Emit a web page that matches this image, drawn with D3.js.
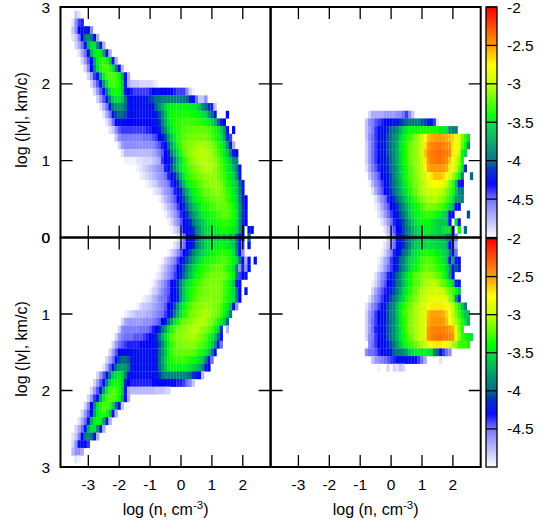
<!DOCTYPE html>
<html>
<head>
<meta charset="utf-8">
<script src="https://cdn.jsdelivr.net/npm/d3@7"></script>
<style>
  html, body { margin: 0; padding: 0; background: #fff; }
  text { font-family: "Liberation Sans", Arial, sans-serif; fill: #000; }
</style>
</head>
<body>
<svg id="chart" width="557" height="524"></svg>
<script>
// each row: [log|v| of the row, log n of the first cell, log density of cells at 0.1 dex steps]
var topLeftRows = [
  [2.9,-3.4,[-4.8,-4.9]],
  [2.8,-3.5,[-4.9,-4.6,-4.4,-4.35]],
  [2.7,-3.5,[-4.8,-4.6,-4.3,-4.2,-4.2,-4.25,-4.6]],
  [2.6,-3.5,[-4.9,-4.8,-4.55,-4.3,-3.95,-3.85,-3.95,-4.25,-4.7]],
  [2.5,-3.4,[-4.85,-4.7,-4.5,-4.2,-3.7,-3.5,-3.5,-3.85,-4.25,-4.7]],
  [2.4,-3.3,[-4.9,-4.7,-4.5,-4.25,-3.7,-3.45,-3.4,-3.45,-3.75,-4.25,-4.7]],
  [2.3,-3.2,[-4.85,-4.65,-4.45,-4.25,-3.75,-3.45,-3.35,-3.3,-3.4,-3.6,-4.2,-4.7]],
  [2.2,-3.1,[-4.85,-4.6,-4.3,-3.85,-3.5,-3.35,-3.25,-3.25,-3.35,-3.5,-3.9,-4.3,-4.75]],
  [2.1,-3.0,[-4.85,-4.65,-4.4,-4.2,-3.75,-3.45,-3.3,-3.25,-3.25,-3.3,-3.4,-3.7,-4.25,-4.7]],
  [2.0,-2.9,[-4.85,-4.65,-4.45,-4.2,-3.8,-3.5,-3.3,-3.25,-3.3,-3.35,-3.55,-4.2,-4.7,-4.8,-4.8,-4.8,-4.85,-4.85,-4.85,-4.85,-4.9,-4.95]],
  [1.9,-2.8,[-4.85,-4.65,-4.45,-4.25,-3.9,-3.55,-3.4,-3.35,-3.4,-3.55,-4.2,-4.3,-4.35,-4.4,-4.4,-4.4,-4.4,-4.4,-4.35,-4.3,-4.25,-4.25,-4.3,-4.3,-4.3,-4.3,-4.35,-4.4,-4.4,-4.4,-4.6,-4.85,-4.95]],
  [1.8,-2.7,[-4.85,-4.65,-4.45,-4.2,-3.95,-3.6,-3.5,-3.5,-3.6,-3.95,-4.25,-4.25,-4.25,-4.25,-4.25,-4.25,-4.2,-4.1,-4.05,-3.95,-3.95,-3.9,-3.9,-3.9,-3.9,-3.9,-3.9,-3.95,-3.95,-4,-4.2,-4.25,-4.5,-4.8,-4.8,-4.6]],
  [1.7,-2.6,[-4.9,-4.7,-4.5,-4.2,-3.95,-3.85,-3.8,-3.85,-4,-4.25,-4.25,-4.25,-4.25,-4.25,-4.25,-4.25,-4.25,-4.2,-4,-3.85,-3.7,-3.55,-3.45,-3.42,-3.42,-3.42,-3.42,-3.42,-3.42,-3.42,-3.45,-3.5,-3.6,-3.85,-4,-4.1,-4.35,-4.8]],
  [1.6,-2.5,[-4.9,-4.7,-4.5,-4.2,-4.05,-4,-4,-4.05,-4.2,-4.25,-4.25,-4.25,-4.25,-4.25,-4.25,-4.25,-4.25,-4.2,-4.05,-3.85,-3.65,-3.45,-3.4,-3.38,-3.38,-3.38,-3.35,-3.35,-3.35,-3.38,-3.4,-3.45,-3.5,-3.55,-3.8,-4,-4.2,null,null,null,-4.3]],
  [1.5,-2.4,[-4.9,-4.75,-4.5,-4.3,-4.25,-4.25,-4.25,-4.3,-4.3,-4.3,-4.3,-4.3,-4.3,-4.3,-4.3,-4.25,-4.2,-4.1,-3.9,-3.7,-3.5,-3.4,-3.35,-3.33,-3.3,-3.28,-3.28,-3.28,-3.28,-3.3,-3.32,-3.35,-3.4,-3.45,-3.55,-3.7,-4,-4.2,-4.3]],
  [1.4,-2.3,[-4.9,-4.8,-4.6,-4.45,-4.4,-4.4,-4.4,-4.4,-4.4,-4.4,-4.4,-4.4,-4.35,-4.35,-4.3,-4.25,-4.2,-4,-3.85,-3.6,-3.45,-3.38,-3.33,-3.28,-3.25,-3.22,-3.22,-3.2,-3.2,-3.2,-3.2,-3.22,-3.25,-3.3,-3.35,-3.45,-3.55,-3.8,-4.2,null,-4.3]],
  [1.3,-2.1,[-4.8,-4.6,-4.55,-4.55,-4.55,-4.55,-4.55,-4.55,-4.55,-4.5,-4.5,-4.5,-4.45,-4.4,-4.3,-4.2,-4.05,-3.8,-3.6,-3.45,-3.33,-3.27,-3.22,-3.18,-3.17,-3.16,-3.15,-3.15,-3.15,-3.15,-3.2,-3.25,-3.32,-3.4,-3.5,-3.7,-4.1,-4.4]],
  [1.2,-2.0,[-4.85,-4.65,-4.6,-4.6,-4.6,-4.6,-4.6,-4.6,-4.6,-4.6,-4.6,-4.6,-4.5,-4.45,-4.35,-4.25,-4,-3.75,-3.55,-3.38,-3.28,-3.2,-3.15,-3.12,-3.1,-3.08,-3.05,-3.05,-3.07,-3.1,-3.15,-3.22,-3.3,-3.4,-3.5,-3.8,-4.2,-4.7]],
  [1.1,-1.9,[-4.9,-4.75,-4.75,-4.75,-4.75,-4.75,-4.75,-4.75,-4.75,-4.75,-4.7,-4.65,-4.55,-4.45,-4.3,-4.15,-3.9,-3.7,-3.5,-3.35,-3.22,-3.15,-3.1,-3.07,-3.05,-3.03,-3.02,-3.02,-3.05,-3.1,-3.15,-3.25,-3.35,-3.45,-3.6,-3.9,-4.2,-4.3]],
  [1.0,-1.8,[-4.95,-4.95,-4.95,-4.95,-4.9,-4.9,-4.85,-4.85,-4.85,-4.8,-4.75,-4.7,-4.4,-4.3,-4.2,-4.1,-3.9,-3.65,-3.5,-3.35,-3.22,-3.15,-3.1,-3.05,-3.03,-3.02,-3.02,-3.05,-3.07,-3.1,-3.18,-3.27,-3.35,-3.45,-3.6,-3.85,-3.9]],
  [0.9,-1.4,[-4.95,-4.9,-4.85,-4.8,-4.75,-4.7,-4.65,-4.6,-4.55,-4.35,-4.2,-4.05,-3.85,-3.65,-3.45,-3.35,-3.28,-3.2,-3.15,-3.12,-3.08,-3.05,-3.03,-3.03,-3.05,-3.1,-3.17,-3.25,-3.32,-3.42,-3.5,-3.7,-3.9,-4.2]],
  [0.8,-1.3,[-4.95,-4.9,-4.85,-4.8,-4.75,-4.7,-4.65,-4.6,-4.5,-4.35,-4.25,-4.15,-3.95,-3.7,-3.45,-3.35,-3.28,-3.23,-3.2,-3.15,-3.12,-3.1,-3.08,-3.1,-3.1,-3.17,-3.22,-3.3,-3.38,-3.45,-3.55,-3.8,-4.2]],
  [0.7,-1.1,[-4.95,-4.9,-4.85,-4.8,-4.7,-4.65,-4.6,-4.5,-4.35,-4.25,-4.15,-3.9,-3.65,-3.45,-3.38,-3.32,-3.28,-3.23,-3.17,-3.15,-3.12,-3.1,-3.1,-3.12,-3.17,-3.25,-3.33,-3.42,-3.5,-3.6,-4,-4.2]],
  [0.6,-0.9,[-4.95,-4.9,-4.85,-4.75,-4.65,-4.6,-4.5,-4.35,-4.25,-4.15,-3.9,-3.7,-3.5,-3.42,-3.35,-3.3,-3.25,-3.2,-3.2,-3.15,-3.12,-3.12,-3.15,-3.22,-3.27,-3.38,-3.45,-3.6,-3.9,-4.2]],
  [0.5,-0.7,[-4.95,-4.85,-4.75,-4.65,-4.55,-4.45,-4.3,-4.2,-4.05,-3.85,-3.65,-3.5,-3.42,-3.35,-3.32,-3.28,-3.25,-3.2,-3.2,-3.17,-3.17,-3.2,-3.27,-3.35,-3.42,-3.55,-3.9,-4.15,-4.3]],
  [0.4,-0.6,[-4.95,-4.85,-4.75,-4.65,-4.55,-4.4,-4.3,-4.15,-4,-3.8,-3.65,-3.55,-3.45,-3.38,-3.35,-3.32,-3.28,-3.25,-3.2,-3.2,-3.2,-3.23,-3.3,-3.38,-3.5,-3.8,-4.1,-4.3]],
  [0.3,-0.5,[-4.95,-4.85,-4.75,-4.65,-4.5,-4.35,-4.25,-4.1,-3.95,-3.8,-3.7,-3.55,-3.45,-3.42,-3.38,-3.35,-3.32,-3.28,-3.25,-3.22,-3.22,-3.28,-3.35,-3.45,-3.8,-4.1,-4.25]],
  [0.2,-0.4,[-4.95,-4.85,-4.7,-4.6,-4.45,-4.3,-4.2,-4.1,-3.95,-3.8,-3.7,-3.6,-3.5,-3.45,-3.42,-3.38,-3.35,-3.32,-3.3,-3.3,-3.35,-3.38,-3.5,-3.85,-4.15,-4.3]],
  [0.1,-0.3,[-4.95,-4.85,-4.75,-4.6,-4.3,-4.25,-4.2,-4.1,-3.9,-3.8,-3.65,-3.55,-3.5,-3.45,-3.45,-3.42,-3.38,-3.35,-3.38,-3.42,-3.45,-3.55,-3.85,-4.15,null,-4.25,-4.25]],
  [0.0,-0.1,[-4.9,-4.75,-4.5,-4.3,-4.25,-4.2,-4,-3.85,-3.7,-3.6,-3.55,-3.5,-3.55,-3.6,-3.5,-3.6,-3.5,-3.7,-3.6,-4,-4.25,-4.2,null,-3.95]]
];
var bottomLeftRows = [
  [0.0,-0.1,[-4.9,-4.75,-4.5,-4.3,-4.25,-4.2,-4,-3.85,-3.7,-3.6,-3.55,-3.5,-3.55,-3.6,-3.5,-3.6,-3.5,-3.7,-3.6,-4,-4.25,-4.2,null,-3.95]],
  [0.1,-0.2,[-4.9,-4.8,-4.65,-4.5,-4.3,-4.25,-4.15,-3.95,-3.8,-3.7,-3.55,-3.5,-3.45,-3.45,-3.45,-3.42,-3.42,-3.45,-3.5,-3.6,-3.9,-4.2,-4.5,null,-4.25]],
  [0.2,-0.4,[-4.95,-4.85,-4.75,-4.6,-4.45,-4.3,-4.2,-4.05,-3.9,-3.75,-3.65,-3.55,-3.5,-3.45,-3.42,-3.38,-3.35,-3.32,-3.32,-3.35,-3.38,-3.5,-3.85,-4.2,-4.6]],
  [0.3,-0.6,[-4.95,-4.85,-4.75,-4.65,-4.55,-4.4,-4.3,-4.2,-4.05,-3.9,-3.75,-3.6,-3.5,-3.45,-3.38,-3.35,-3.32,-3.32,-3.28,-3.25,-3.25,-3.28,-3.35,-3.42,-3.5,-3.9,-4.3,-4.7,-4.25,null,-4.25]],
  [0.4,-0.7,[-4.95,-4.85,-4.75,-4.65,-4.55,-4.45,-4.3,-4.2,-4.05,-3.85,-3.7,-3.55,-3.45,-3.38,-3.35,-3.32,-3.28,-3.25,-3.2,-3.2,-3.2,-3.25,-3.32,-3.38,-3.5,-3.9,-4.6,-4.1,-4.6,-4.25]],
  [0.5,-0.8,[-4.95,-4.9,-4.8,-4.7,-4.6,-4.5,-4.4,-4.25,-4.15,-4,-3.8,-3.6,-3.5,-3.38,-3.35,-3.28,-3.25,-3.2,-3.17,-3.17,-3.17,-3.15,-3.17,-3.25,-3.32,-3.42,-3.9,-4.4,-4.3,-4.25]],
  [0.6,-0.9,[-4.95,-4.85,-4.75,-4.65,-4.55,-4.45,-4.3,-4.25,-4.1,-3.9,-3.65,-3.5,-3.42,-3.35,-3.28,-3.25,-3.2,-3.17,-3.15,-3.15,-3.15,-3.15,-3.17,-3.25,-3.32,-3.42,-3.6,-4.2,-4.25]],
  [0.7,-1.0,[-4.95,-4.85,-4.8,-4.7,-4.6,-4.5,-4.45,-4.3,-4.25,-4.1,-3.85,-3.6,-3.45,-3.38,-3.32,-3.25,-3.2,-3.17,-3.17,-3.15,-3.15,-3.15,-3.15,-3.17,-3.25,-3.32,-3.42,-3.5,-3.9,-4.25,null,-4.25]],
  [0.8,-1.2,[-4.95,-4.9,-4.85,-4.75,-4.7,-4.6,-4.55,-4.5,-4.4,-4.3,-4.25,-4.15,-3.85,-3.6,-3.45,-3.35,-3.28,-3.2,-3.17,-3.15,-3.15,-3.12,-3.12,-3.15,-3.15,-3.17,-3.28,-3.35,-3.42,-3.5,-3.9,-4.3]],
  [0.9,-1.4,[-4.95,-4.85,-4.8,-4.8,-4.75,-4.7,-4.65,-4.6,-4.55,-4.45,-4.3,-4.25,-4.05,-3.8,-3.55,-3.42,-3.32,-3.25,-3.17,-3.15,-3.12,-3.12,-3.08,-3.12,-3.12,-3.15,-3.17,-3.25,-3.35,-3.45,-3.6,-4.2,-4.6]],
  [1.0,-1.8,[-4.95,-4.9,-4.85,-4.8,-4.75,-4.75,-4.75,-4.7,-4.7,-4.65,-4.6,-4.55,-4.5,-4.4,-4.25,-4.15,-3.95,-3.7,-3.5,-3.35,-3.28,-3.17,-3.15,-3.12,-3.08,-3.06,-3.05,-3.06,-3.12,-3.15,-3.2,-3.28,-3.42,-3.55,-3.9]],
  [1.1,-1.9,[-4.85,-4.7,-4.65,-4.65,-4.65,-4.65,-4.65,-4.6,-4.6,-4.6,-4.55,-4.5,-4.45,-4.3,-4.2,-4,-3.75,-3.5,-3.38,-3.22,-3.17,-3.15,-3.12,-3.08,-3.05,-3.02,-3.02,-3.06,-3.12,-3.17,-3.25,-3.35,-3.45,-3.6,-4]],
  [1.2,-2.0,[-4.85,-4.6,-4.55,-4.55,-4.55,-4.55,-4.55,-4.5,-4.5,-4.5,-4.45,-4.35,-4.3,-4.15,-3.95,-3.75,-3.5,-3.35,-3.22,-3.17,-3.15,-3.12,-3.08,-3.05,-3.02,-3.02,-3.05,-3.12,-3.15,-3.2,-3.3,-3.42,-3.55,-4.1,null,-4.75]],
  [1.3,-2.1,[-4.85,-4.65,-4.55,-4.5,-4.5,-4.5,-4.45,-4.45,-4.45,-4.4,-4.35,-4.3,-4.25,-4.15,-3.95,-3.7,-3.5,-3.35,-3.22,-3.17,-3.15,-3.12,-3.08,-3.08,-3.05,-3.05,-3.08,-3.12,-3.17,-3.25,-3.35,-3.45,-3.6,-3.95,-4.25]],
  [1.4,-2.2,[-4.85,-4.65,-4.5,-4.45,-4.4,-4.35,-4.35,-4.35,-4.35,-4.3,-4.3,-4.3,-4.3,-4.25,-4.2,-4.05,-3.85,-3.6,-3.42,-3.32,-3.22,-3.17,-3.15,-3.15,-3.12,-3.12,-3.12,-3.15,-3.22,-3.25,-3.32,-3.42,-3.55,-3.8,-4.2,-4.5]],
  [1.5,-2.3,[-4.85,-4.65,-4.45,-4.3,-4.25,-4.25,-4.25,-4.25,-4.25,-4.25,-4.25,-4.25,-4.25,-4.25,-4.25,-4.2,-4,-3.8,-3.6,-3.42,-3.3,-3.22,-3.22,-3.2,-3.2,-3.2,-3.2,-3.22,-3.25,-3.32,-3.38,-3.45,-3.6,-3.9,-4.25]],
  [1.6,-2.4,[-4.85,-4.7,-4.5,-4.25,-4.05,-4,-4,-4.05,-4.2,-4.25,-4.25,-4.25,-4.25,-4.25,-4.25,-4.25,-4.2,-4,-3.75,-3.55,-3.42,-3.35,-3.3,-3.3,-3.3,-3.3,-3.32,-3.35,-3.38,-3.42,-3.5,-3.6,-3.9,-4.25,-4.5]],
  [1.7,-2.5,[-4.9,-4.7,-4.45,-4.2,-3.95,-3.8,-3.75,-3.8,-3.95,-4.2,-4.25,-4.25,-4.25,-4.25,-4.25,-4.25,-4.25,-4.2,-4,-3.8,-3.6,-3.45,-3.42,-3.42,-3.42,-3.42,-3.42,-3.45,-3.5,-3.55,-3.65,-3.75,-3.9,-4.2,-4.3]],
  [1.8,-2.7,[-4.85,-4.65,-4.45,-4.2,-3.95,-3.6,-3.5,-3.45,-3.55,-3.9,-4.25,-4.25,-4.25,-4.25,-4.25,-4.25,-4.25,-4.25,-4.25,-4.2,-4.1,-3.95,-3.9,-3.9,-3.9,-3.9,-3.9,-3.9,-3.9,-3.95,-4,-4.1,-4.2,-4.25,-4.75]],
  [1.9,-2.8,[-4.85,-4.65,-4.45,-4.25,-3.9,-3.55,-3.4,-3.35,-3.4,-3.55,-4.15,-4.3,-4.35,-4.35,-4.35,-4.35,-4.35,-4.35,-4.35,-4.3,-4.3,-4.3,-4.3,-4.3,-4.3,-4.3,-4.3,-4.35,-4.35,-4.4,-4.5,-4.6,-4.8]],
  [2.0,-2.9,[-4.85,-4.65,-4.45,-4.2,-3.8,-3.5,-3.3,-3.25,-3.3,-3.35,-3.55,-4.2,-4.7,-4.75,-4.75,-4.75,-4.75,-4.75,-4.75,-4.75,-4.75,-4.8,-4.8,-4.8,-4.85,-4.85]],
  [2.1,-3.0,[-4.85,-4.65,-4.4,-4.2,-3.75,-3.45,-3.3,-3.25,-3.25,-3.3,-3.4,-3.7,-4.25,-4.7]],
  [2.2,-3.1,[-4.85,-4.6,-4.3,-3.85,-3.5,-3.35,-3.25,-3.25,-3.35,-3.55,-4,-4.3,-4.8]],
  [2.3,-3.2,[-4.85,-4.65,-4.45,-4.25,-3.75,-3.45,-3.35,-3.3,-3.4,-3.6,-4.2,-4.7]],
  [2.4,-3.3,[-4.9,-4.7,-4.5,-4.25,-3.7,-3.45,-3.4,-3.45,-3.75,-4.25,-4.7]],
  [2.5,-3.4,[-4.85,-4.7,-4.5,-4.2,-3.7,-3.5,-3.5,-3.85,-4.25,-4.7]],
  [2.6,-3.5,[-4.9,-4.8,-4.55,-4.3,-3.95,-3.85,-3.95,-4.25,-4.7]],
  [2.7,-3.5,[-4.85,-4.6,-4.25,-4.25,-4.25,-4.4]],
  [2.8,-3.5,[-4.75,-4.6,-4.6,-4.7]],
  [2.9,-3.4,[-4.9,-4.95]]
];
var topRightRows = [
  [1.6,-0.7,[-4.85,-4.7,-4.7,-4.7,-4.7,-4.65,-4.65,-4.65,-4.65,-4.6,-4.6,-4.5,-4.4,-4.6,-4.8]],
  [1.5,-0.8,[-4.8,-4.6,-4.55,-4.45,-4.4,-4.35,-4.3,-4.3,-4.25,-4.25,-4.2,-4.1,-4.05,-4,-3.95,-3.95,-3.95,-3.95,-4.05,-4.05,-4.2,-4.2,-4.4,-4.9]],
  [1.4,-0.8,[-4.8,-4.65,-4.55,-4.4,-4.25,-4.25,-4.25,-4.1,-4,-3.95,-3.85,-3.7,-3.55,-3.45,-3.4,-3.4,-3.4,-3.35,-3.35,-3.35,-3.35,-3.35,-3.35,-3.35,-3.45,-3.45,-3.5,-3.85,-3.95,-3.95]],
  [1.3,-0.8,[-4.8,-4.6,-4.5,-4.4,-4.25,-4.2,-4.2,-4.05,-3.95,-3.85,-3.75,-3.55,-3.45,-3.35,-3.3,-3.2,-3.15,-3.05,-2.95,-2.75,-2.6,-2.55,-2.52,-2.5,-2.5,-2.52,-2.55,-2.6,-2.65,-2.8,-2.85,-3.15,-3.3,-3.5]],
  [1.2,-0.8,[-4.85,-4.65,-4.5,-4.4,-4.25,-4.2,-4.2,-4.05,-3.95,-3.85,-3.7,-3.5,-3.4,-3.3,-3.2,-3.15,-3.1,-3.05,-2.95,-2.7,-2.5,-2.45,-2.42,-2.4,-2.4,-2.42,-2.45,-2.5,-2.7,-2.8,-2.85,-3.2,-3.4,-3.9]],
  [1.1,-0.8,[-4.85,-4.65,-4.5,-4.4,-4.25,-4.2,-4.2,-4.05,-3.95,-3.85,-3.7,-3.5,-3.4,-3.3,-3.2,-3.15,-3.1,-3.05,-2.95,-2.6,-2.45,-2.4,-2.38,-2.36,-2.35,-2.38,-2.4,-2.45,-2.7,-2.85,-2.95,-3.4,-3.55]],
  [1.0,-0.8,[-4.85,-4.65,-4.5,-4.4,-4.3,-4.25,-4.2,-4.1,-4,-3.85,-3.7,-3.55,-3.4,-3.3,-3.2,-3.15,-3.1,-3.05,-2.95,-2.7,-2.5,-2.42,-2.4,-2.38,-2.38,-2.4,-2.45,-2.6,-2.8,-2.95,-3.1,-3.4]],
  [0.9,-0.8,[-4.9,-4.7,-4.55,-4.45,-4.35,-4.25,-4.2,-4.15,-4,-3.9,-3.75,-3.55,-3.45,-3.35,-3.25,-3.2,-3.1,-3.05,-3,-2.8,-2.55,-2.5,-2.5,-2.5,-2.5,-2.5,-2.55,-2.7,-2.85,-3,-3.2,-3.45,-4.1]],
  [0.8,-0.7,[-4.8,-4.65,-4.55,-4.45,-4.3,-4.25,-4.2,-4.05,-3.9,-3.75,-3.6,-3.45,-3.35,-3.25,-3.2,-3.15,-3.05,-3,-2.95,-2.8,-2.7,-2.6,-2.6,-2.6,-2.65,-2.75,-2.9,-3.05,-3.2,-3.4,-3.9,null,null,-4]],
  [0.7,-0.7,[-4.95,-4.75,-4.6,-4.5,-4.4,-4.25,-4.2,-4.05,-3.95,-3.8,-3.65,-3.5,-3.4,-3.3,-3.2,-3.15,-3.1,-3.05,-2.95,-2.85,-2.8,-2.75,-2.75,-2.8,-2.85,-3,-3.15,-3.3,-3.6,-4.25,-4.25]],
  [0.6,-0.6,[-4.9,-4.7,-4.55,-4.45,-4.3,-4.25,-4.1,-4,-3.85,-3.7,-3.55,-3.45,-3.35,-3.25,-3.2,-3.1,-3.05,-3,-2.95,-2.95,-2.9,-2.95,-3,-3.05,-3.15,-3.25,-3.35,-3.6,-3.9,-3.95]],
  [0.5,-0.5,[-4.9,-4.75,-4.6,-4.5,-4.35,-4.25,-4.1,-4,-3.85,-3.7,-3.55,-3.45,-3.35,-3.3,-3.2,-3.15,-3.1,-3.05,-3.05,-3,-3.05,-3.1,-3.15,-3.25,-3.35,-3.5,-3.8,-3.85,-3.9]],
  [0.4,-0.5,[-4.95,-4.85,-4.7,-4.55,-4.45,-4.3,-4.25,-4.1,-4,-3.85,-3.7,-3.55,-3.45,-3.4,-3.35,-3.25,-3.2,-3.15,-3.15,-3.15,-3.2,-3.25,-3.3,-3.4,-3.55,-3.7,-4.25,-4.25]],
  [0.3,-0.4,[-4.9,-4.8,-4.65,-4.5,-4.4,-4.25,-4.2,-4.05,-3.95,-3.8,-3.6,-3.5,-3.45,-3.4,-3.35,-3.3,-3.3,-3.3,-3.35,-3.4,-3.45,-3.55,-3.6,-4.2,-4.25,null,null,null,null,-4.05]],
  [0.2,-0.3,[-4.9,-4.8,-4.65,-4.5,-4.35,-4.25,-4.15,-4.05,-3.9,-3.75,-3.6,-3.5,-3.45,-3.4,-3.4,-3.4,-3.45,-3.5,-3.55,-3.6,-3.6,-3.65,-4.25,null,-3.5,-4.25]],
  [0.1,-0.2,[-4.9,-4.75,-4.6,-4.45,-4.3,-4.25,-4.05,-3.95,-3.85,-3.7,-3.6,-3.55,-3.5,-3.45,-3.45,-3.45,-3.5,-3.55,-3.55,-3.5,-3.45,-3.5,-4.25,null,-3.4,null,-4]],
  [0.0,-0.1,[-4.8,-4.65,-4.5,-4.25,-4.2,-4.1,-4,-3.9,-3.8,-3.7,-3.6,-3.6,-3.55,-3.55,-3.6,-3.6,-3.6,-3.7,-3.7,-3.85,-3.95,-4.25,-4.5]]
];
var bottomRightRows = [
  [0.0,-0.1,[-4.8,-4.65,-4.5,-4.25,-4.2,-4.1,-4,-3.9,-3.8,-3.7,-3.6,-3.6,-3.55,-3.55,-3.6,-3.6,-3.6,-3.7,-3.7,-3.85,-3.95,-4.25,-4.5]],
  [0.1,-0.2,[-4.9,-4.8,-4.65,-4.5,-4.25,-4.25,-4.1,-4,-3.9,-3.7,-3.6,-3.55,-3.55,-3.55,-3.5,-3.5,-3.5,-3.55,-3.55,-3.6,-3.7,-4.25,-4.4,-4.7]],
  [0.2,-0.3,[-4.95,-4.85,-4.7,-4.55,-4.35,-4.25,-4.15,-4,-3.9,-3.75,-3.55,-3.5,-3.45,-3.4,-3.35,-3.35,-3.35,-3.4,-3.45,-3.45,-3.55,-3.6,-3.9,-4.25,-4.5]],
  [0.3,-0.4,[-4.95,-4.85,-4.7,-4.6,-4.4,-4.25,-4.15,-4,-3.9,-3.7,-3.55,-3.5,-3.45,-3.35,-3.3,-3.25,-3.25,-3.25,-3.3,-3.35,-3.4,-3.5,-3.6,-4.2,-3.75,-4.25,-4.25]],
  [0.4,-0.4,[-4.9,-4.8,-4.65,-4.5,-4.4,-4.25,-4.15,-4,-3.85,-3.7,-3.55,-3.45,-3.4,-3.3,-3.25,-3.2,-3.2,-3.2,-3.25,-3.3,-3.35,-3.4,-3.55,-3.8,-4.2,-4.05,-4.25]],
  [0.5,-0.5,[-4.9,-4.75,-4.6,-4.5,-4.35,-4.25,-4.1,-4,-3.85,-3.65,-3.5,-3.4,-3.3,-3.25,-3.2,-3.15,-3.1,-3.1,-3.1,-3.15,-3.2,-3.25,-3.35,-3.5,-3.8,-4.3]],
  [0.6,-0.6,[-4.95,-4.85,-4.7,-4.55,-4.45,-4.3,-4.25,-4.1,-3.95,-3.85,-3.65,-3.5,-3.4,-3.3,-3.25,-3.2,-3.1,-3.05,-3.05,-3,-3,-3.05,-3.15,-3.2,-3.3,-3.4,-3.55,-4.2,-4.25]],
  [0.7,-0.6,[-4.85,-4.7,-4.55,-4.45,-4.35,-4.25,-4.15,-4.05,-3.9,-3.75,-3.55,-3.45,-3.35,-3.25,-3.2,-3.1,-3.05,-3,-2.95,-2.95,-2.9,-2.9,-2.95,-3,-3.1,-3.2,-3.3,-3.4,-3.6]],
  [0.8,-0.7,[-4.9,-4.75,-4.6,-4.5,-4.4,-4.25,-4.2,-4.05,-3.95,-3.8,-3.6,-3.5,-3.35,-3.25,-3.2,-3.15,-3.05,-3,-2.95,-2.9,-2.85,-2.85,-2.85,-2.85,-2.85,-2.9,-3.1,-3.25,-3.8,-4.2]],
  [0.9,-0.8,[-4.9,-4.75,-4.6,-4.5,-4.4,-4.25,-4.2,-4.05,-3.95,-3.85,-3.6,-3.45,-3.35,-3.25,-3.2,-3.1,-3.05,-3,-2.95,-2.9,-2.75,-2.7,-2.7,-2.7,-2.7,-2.72,-2.8,-2.85,-3,-3.2,-3.35,-3.6,-3.9]],
  [1.0,-0.8,[-4.85,-4.65,-4.55,-4.4,-4.3,-4.25,-4.2,-4.05,-3.9,-3.85,-3.6,-3.45,-3.3,-3.25,-3.15,-3.1,-3.05,-3,-2.95,-2.85,-2.58,-2.52,-2.52,-2.52,-2.52,-2.55,-2.65,-2.8,-3,-3.15,-3.3,-3.45,-3.6,-3.6]],
  [1.1,-0.8,[-4.85,-4.65,-4.5,-4.4,-4.3,-4.25,-4.2,-4.05,-3.95,-3.85,-3.65,-3.45,-3.35,-3.25,-3.15,-3.1,-3.05,-3,-2.95,-2.85,-2.55,-2.5,-2.48,-2.48,-2.48,-2.5,-2.6,-2.75,-2.95,-3.05,-3.2,-3.35,-3.5,-3.7]],
  [1.2,-0.8,[-4.85,-4.65,-4.5,-4.35,-4.25,-4.25,-4.2,-4.05,-3.95,-3.85,-3.65,-3.5,-3.35,-3.25,-3.15,-3.1,-3.05,-3,-2.95,-2.85,-2.5,-2.45,-2.42,-2.42,-2.42,-2.42,-2.45,-2.5,-2.55,-2.9,-3.15,-3.35]],
  [1.3,-0.8,[-4.85,-4.6,-4.55,-4.4,-4.25,-4.25,-4.2,-4.05,-3.95,-3.85,-3.65,-3.5,-3.4,-3.3,-3.2,-3.15,-3.05,-3,-2.95,-2.85,-2.48,-2.42,-2.4,-2.38,-2.36,-2.38,-2.4,-2.42,-2.45,-2.85,-3.1,-3.3,-3.35,-3.45,-3.5]],
  [1.4,-0.7,[-4.6,-4.5,-4.4,-4.3,-4.25,-4.25,-4.15,-4.05,-3.95,-3.75,-3.6,-3.45,-3.35,-3.3,-3.25,-3.2,-3.1,-3.05,-2.95,-2.85,-2.75,-2.7,-2.7,-2.7,-2.75,-2.8,-2.9,-3.05,-3.1,-3.3,-3.3,-3.25,-3.35]],
  [1.5,-0.8,[-4.6,-4.5,-4.5,-4.45,-4.35,-4.3,-4.25,-4.25,-4.2,-4,-3.95,-3.9,-3.85,-3.75,-3.6,-3.5,-3.45,-3.45,-3.45,-3.4,-3.5,-3.5,-3.9,-4,-4.25,-4.4,-4.5,-4.6]],
  [1.6,-0.6,[-4.8,-4.65,-4.6,-4.55,-4.5,-4.45,-4.4,-4.35,-4.25,-4.25,-4.2,-4.25,-4.25,-4.25,-4.25,-4.4,-4.5,-4.7,null,null,null,null,-4.9]],
  [1.7,-0.4,[-4.95,null,null,-4.85,null,-4.85,-4.9,-4.8,-4.85]]
];
var colorStops = [-5, -4.5, -4.3, -4.1, -4, -3.5, -3.4, -3, -2.75, -2.5, -2];
var colorValues = ["#ffffff", "#7070ff", "#0000ff", "#0030c0", "#006a8a", "#00e040", "#00ff00", "#c0ff00", "#ffff00", "#ff9900", "#ff0000"];
var nTicks = [-3, -2, -1, 0, 1, 2];
var vTicks = [0, 1, 2, 3];
var barTicks = [-2, -2.5, -3, -3.5, -4, -4.5];

var svg = d3.select("#chart");
var defs = svg.append("defs");
defs.append("filter").attr("id", "soft")
  .attr("x", "-5%").attr("y", "-5%").attr("width", "110%").attr("height", "110%")
  .append("feGaussianBlur").attr("stdDeviation", 0.6);

var color = d3.scaleLinear().domain(colorStops).range(colorValues).clamp(true);

var xLeft = d3.scaleLinear().domain([-3.9, 2.9]).range([60.5, 270.6]);
var xRight = d3.scaleLinear().domain([-3.9, 2.9]).range([270.6, 480.7]);
var yTop = d3.scaleLinear().domain([0, 3]).range([237.5, 7]);
var yBottom = d3.scaleLinear().domain([0, 3]).range([237.5, 467]);

//one heatmap panel, cells centred on the grid nodes
function drawPanel(name, rows, x, y) {
  var clip = defs.append("clipPath").attr("id", "clip-" + name);
  clip.append("rect")
    .attr("x", x.range()[0]).attr("width", x.range()[1] - x.range()[0])
    .attr("y", Math.min(y.range()[0], y.range()[1]))
    .attr("height", Math.abs(y.range()[1] - y.range()[0]));

  var cells = [];
  rows.forEach(function(row) {
    row[2].forEach(function(val, i) {
      if (val !== null) cells.push({ v: row[0], n: row[1] + i * 0.1, val: val });
    });
  });

  svg.append("g").attr("clip-path", "url(#clip-" + name + ")")
    .append("g").attr("filter", "url(#soft)")
    .selectAll("rect").data(cells).enter().append("rect")
      .attr("x", function(d) { return x(d.n - 0.05); })
      .attr("width", function(d) { return x(d.n + 0.05) - x(d.n - 0.05) + 0.2; })
      .attr("y", function(d) { return Math.min(y(d.v - 0.05), y(d.v + 0.05)); })
      .attr("height", function(d) { return Math.abs(y(d.v + 0.05) - y(d.v - 0.05)) + 0.2; })
      .attr("fill", function(d) { return color(d.val); });
}

drawPanel("tl", topLeftRows, xLeft, yTop);
drawPanel("bl", bottomLeftRows, xLeft, yBottom);
drawPanel("tr", topRightRows, xRight, yTop);
drawPanel("br", bottomRightRows, xRight, yBottom);

//frames and inward ticks
function drawFrame(x, y) {
  var g = svg.append("g").attr("fill", "none").attr("stroke", "#000");
  var x0 = x.range()[0], x1 = x.range()[1], y0 = y.range()[0], y1 = y.range()[1];
  var dirY = y1 > y0 ? 1 : -1;

  g.append("rect")
    .attr("x", x0).attr("width", x1 - x0)
    .attr("y", Math.min(y0, y1)).attr("height", Math.abs(y1 - y0))
    .attr("stroke-width", 2);

  g.selectAll(".xt").data(nTicks).enter().append("path")
    .attr("stroke-width", 1.3)
    .attr("d", function(d) {
      return "M" + x(d) + "," + y0 + "v" + (dirY * 12) + "M" + x(d) + "," + y1 + "v" + (-dirY * 12);
    });
  g.selectAll(".yt").data(vTicks.slice(1, 3)).enter().append("path")
    .attr("stroke-width", 1.3)
    .attr("d", function(d) {
      return "M" + x0 + "," + y(d) + "h12M" + x1 + "," + y(d) + "h-12";
    });
}
drawFrame(xLeft, yTop);
drawFrame(xLeft, yBottom);
drawFrame(xRight, yTop);
drawFrame(xRight, yBottom);

//tick labels
function yLabels(y) {
  svg.append("g").selectAll("text").data(vTicks).enter().append("text")
    .attr("x", 50).attr("y", function(d) { return y(d); })
    .attr("dy", "0.36em").attr("text-anchor", "end")
    .attr("font-size", 15.5).text(function(d) { return d; });
}
yLabels(yTop);
yLabels(yBottom);

function xLabels(x) {
  svg.append("g").selectAll("text").data(nTicks).enter().append("text")
    .attr("x", function(d) { return x(d); }).attr("y", 490)
    .attr("text-anchor", "middle")
    .attr("font-size", 15.5).text(function(d) { return d; });
  var label = svg.append("text")
    .attr("x", x(-0.5)).attr("y", 515)
    .attr("text-anchor", "middle").attr("font-size", 16);
  label.append("tspan").text("log (n, cm");
  label.append("tspan").attr("dy", -6).attr("font-size", 11.5).text("-3");
  label.append("tspan").attr("dy", 6).text(")");
}
xLabels(xLeft);
xLabels(xRight);

[120, 349].forEach(function(cy) {
  svg.append("text")
    .attr("transform", "translate(27," + cy + ") rotate(-90)")
    .attr("text-anchor", "middle").attr("font-size", 16)
    .text("log (|v|, km/c)");
});

//colour bars
function drawBar(y0, y1, labels) {
  var yBar = d3.scaleLinear().domain([-2, -5]).range([y0, y1]);
  var g = svg.append("g");
  g.selectAll("rect").data(d3.range(0, 230)).enter().append("rect")
    .attr("x", 486).attr("width", 11)
    .attr("y", function(d) { return yBar(-2 - d * 3 / 230); })
    .attr("height", (y1 - y0) / 230 + 0.5)
    .attr("fill", function(d) { return color(-2 - d * 3 / 230); });
  g.append("rect").attr("x", 486).attr("y", y0).attr("width", 11).attr("height", y1 - y0)
    .attr("fill", "none").attr("stroke", "#000").attr("stroke-width", 1.3);
  g.selectAll("line").data(barTicks).enter().append("line")
    .attr("x1", 486).attr("x2", 497)
    .attr("y1", function(d) { return yBar(d); }).attr("y2", function(d) { return yBar(d); })
    .attr("stroke", "#000").attr("stroke-width", 1.3);
  g.selectAll("text").data(labels).enter().append("text")
    .attr("x", 507).attr("y", function(d) { return yBar(d); })
    .attr("dy", "0.36em").attr("font-size", 15.5)
    .text(function(d) { return d; });
}
drawBar(7, 237.5, barTicks);
drawBar(238.5, 467, barTicks);
</script>
</body>
</html>
